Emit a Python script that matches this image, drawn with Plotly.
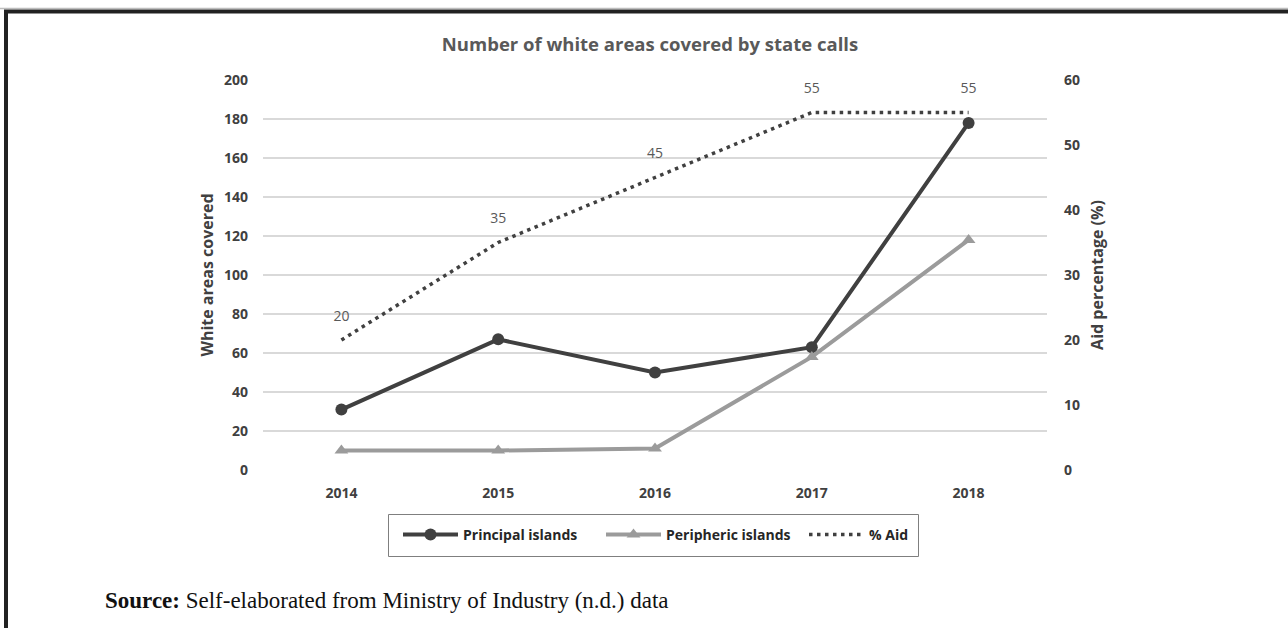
import plotly.graph_objects as go

# Chart data
years = ["2014", "2015", "2016", "2017", "2018"]
principal_islands = [31, 67, 50, 63, 178]
peripheric_islands = [10, 10, 11, 58, 118]
aid_pct = [20, 35, 45, 55, 55]

left_ticks = [0, 20, 40, 60, 80, 100, 120, 140, 160, 180, 200]
right_ticks = [0, 10, 20, 30, 40, 50, 60]

W, H = 1288, 628
PL, PR, PT, PB = 263, 1047, 80, 470  # plot area in pixels


def px_x(x):
    return (x - PL) / (PR - PL)


def px_y(y):
    return (PB - y) / (PB - PT)


DARK = "#404040"
GREY = "#9b9b9b"
TXT = "#595959"
FONT = "Open Sans"

fig = go.Figure()

fig.add_trace(go.Scatter(
    x=years, y=principal_islands, name="Principal islands",
    mode="lines+markers",
    line=dict(color=DARK, width=4),
    marker=dict(symbol="circle", size=12, color=DARK),
))
fig.add_trace(go.Scatter(
    x=years, y=peripheric_islands, name="Peripheric islands",
    mode="lines+markers",
    line=dict(color=GREY, width=4),
    marker=dict(symbol="triangle-up", size=12, color=GREY),
))
# % aid on the secondary axis
fig.add_trace(go.Scatter(
    x=years, y=aid_pct, name="% Aid", yaxis="y2",
    mode="lines",
    line=dict(color=DARK, width=3.5, dash="3.5px,4.5px"),
))
# value labels above each % aid point
fig.add_trace(go.Scatter(
    x=years, y=aid_pct, yaxis="y2", showlegend=False, hoverinfo="skip",
    mode="markers+text",
    text=[str(v) for v in aid_pct], textposition="top center",
    textfont=dict(family=FONT, size=14, color=TXT),
    marker=dict(size=24, opacity=0, color=DARK),
))

annotations = [dict(
    x=px_x(103), y=px_y(600), xref="paper", yref="paper",
    xanchor="left", yanchor="middle", showarrow=False,
    text="<b>Source:</b> Self-elaborated from Ministry of Industry (n.d.) data",
    font=dict(family="Liberation Serif", size=23, color="#111111"),
)]

shapes = [
    # outer frame: top rule and left rule
    dict(type="line", xref="paper", yref="paper",
         x0=px_x(0), x1=px_x(W), y0=px_y(8.5), y1=px_y(8.5),
         line=dict(color="#bdbdbd", width=1.5)),
    dict(type="line", xref="paper", yref="paper",
         x0=px_x(4), x1=px_x(W), y0=px_y(11.5), y1=px_y(11.5),
         line=dict(color="#222222", width=4)),
    dict(type="line", xref="paper", yref="paper",
         x0=px_x(6), x1=px_x(6), y0=px_y(10), y1=px_y(H + 5),
         line=dict(color="#222222", width=4)),
    # legend box
    dict(type="rect", xref="paper", yref="paper",
         x0=px_x(388.5), x1=px_x(918.5), y0=px_y(514.5), y1=px_y(556.5),
         line=dict(color="#7f7f7f", width=1), fillcolor="rgba(0,0,0,0)"),
]

tick_font = dict(family=FONT, size=14, color=DARK, weight="bold")
axis_title_font = dict(family=FONT, size=16, color=DARK, weight="bold")

fig.update_layout(
    width=W, height=H,
    margin=dict(l=PL, r=W - PR, t=PT, b=H - PB),
    paper_bgcolor="white", plot_bgcolor="white",
    title=dict(
        text="Number of white areas covered by state calls",
        x=650 / W, xanchor="center",
        y=1 - 45 / H, yanchor="middle",
        font=dict(family=FONT, size=18.5, color=TXT, weight="bold"),
    ),
    xaxis=dict(
        type="category", range=[-0.5, 4.5],
        showgrid=False, showline=False, zeroline=False,
        ticks="", tickfont=tick_font, ticklabelstandoff=13,
    ),
    yaxis=dict(
        range=[0, 200], tickvals=left_ticks,
        showgrid=True, gridcolor="#d9d9d9", gridwidth=1.5,
        zeroline=False, showline=False, ticks="",
        tickfont=tick_font, ticklabelstandoff=14,
        title=dict(text="White areas covered", font=axis_title_font,
                   standoff=6),
    ),
    yaxis2=dict(
        range=[0, 60], tickvals=right_ticks, overlaying="y", side="right",
        showgrid=False, zeroline=False, showline=False, ticks="",
        tickfont=tick_font, ticklabelstandoff=16,
        title=dict(text="Aid percentage (%)", font=axis_title_font,
                   standoff=12),
    ),
    showlegend=True,
    legend=dict(
        orientation="h", x=px_x(398), xanchor="left",
        y=px_y(535), yanchor="middle",
        bgcolor="rgba(0,0,0,0)", borderwidth=0,
        font=dict(family=FONT, size=14, color="#262626", weight="bold"),
        itemwidth=55,
        entrywidth=133, entrywidthmode="pixels",
        tracegroupgap=0,
    ),
    annotations=annotations,
    shapes=shapes,
)

fig.write_html("out.html")
